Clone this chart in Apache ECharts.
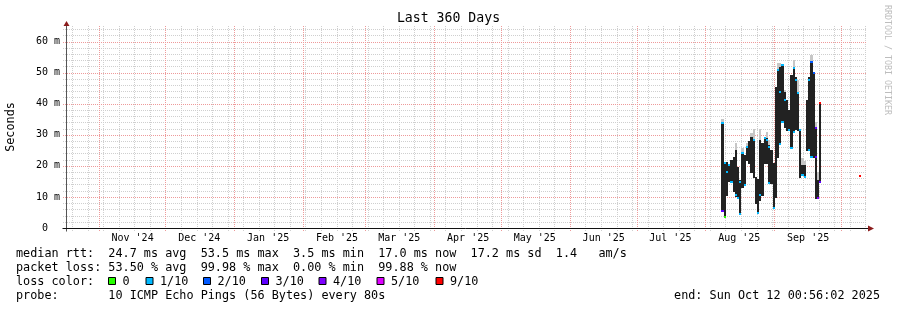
<!DOCTYPE html>
<html><head><meta charset="utf-8">
<script src="https://cdn.jsdelivr.net/npm/echarts@6/dist/echarts.min.js"></script>
<style>html,body{margin:0;padding:0;background:#fff}#c{width:897px;height:310px}</style>
</head><body><div id="c"></div>
<script>
// ---------------- data ----------------
const chartTitle = 'Last 360 Days';
const yAxisName = 'Seconds';
const rangeStart = '2024-10-17T00:56:02';
const rangeEnd = '2025-10-12T00:56:02';
const yTickValues = [0, 10, 20, 30, 40, 50, 60];
const monthTicks = ['2024-11-01','2024-12-01','2025-01-01','2025-02-01','2025-03-01','2025-04-01',
  '2025-05-01','2025-06-01','2025-07-01','2025-08-01','2025-09-01','2025-10-01'];
const monthLabels = ["Nov '24","Dec '24","Jan '25","Feb '25","Mar '25","Apr '25",
  "May '25","Jun '25","Jul '25","Aug '25","Sep '25"];
const firstWeekLine = '2024-10-20';

const days = ['2025-08-08','2025-08-09','2025-08-10','2025-08-11','2025-08-12','2025-08-13','2025-08-14',
  '2025-08-15','2025-08-16','2025-08-17','2025-08-18','2025-08-19','2025-08-20','2025-08-21','2025-08-22',
  '2025-08-23','2025-08-24','2025-08-25','2025-08-26','2025-08-27','2025-08-28','2025-08-29','2025-08-30',
  '2025-08-31','2025-09-01','2025-09-02','2025-09-03','2025-09-04','2025-09-05','2025-09-06','2025-09-07',
  '2025-09-08','2025-09-09','2025-09-10','2025-09-11','2025-09-12','2025-09-13','2025-09-14','2025-09-15',
  '2025-09-16','2025-09-17','2025-09-18','2025-09-19','2025-09-20','2025-09-21'];
// median rtt range per day (ms)
const medianLow = [5.8,3.6,10.6,15.0,14.8,12.0,10.2,9.7,4.8,13.3,14.0,21.9,21.0,18.0,16.5,
  7.9,4.7,9.0,10.6,20.9,20.9,14.4,14.4,6.3,10.0,22.9,27.0,34.2,32.6,31.5,31.5,
  25.6,31.0,32.0,31.5,16.5,17.0,16.5,25.0,25.0,22.9,23.0,9.5,9.5,15.0];
const medianHigh = [33.7,21.3,21.3,20.5,21.9,23.0,25.0,19.5,15.4,24.6,23.5,26.2,28.0,29.4,28.3,
  16.5,15.9,28.3,27.2,28.9,28.9,26.7,25.0,20.9,45.5,50.8,51.9,52.4,43.9,41.2,38.0,
  49.2,51.9,48.5,43.3,31.5,20.3,20.3,41.2,48.7,53.5,49.8,32.6,15.4,40.7];
// top of the grey smoke (ms)
const smokeHigh = [35.2,21.3,21.3,20.5,21.9,23.0,27.2,19.5,15.4,25.8,23.5,27.2,28.0,30.5,32.0,
  16.5,15.9,32.0,27.2,28.9,31.0,28.3,25.0,20.9,45.5,53.0,53.0,52.4,44.5,41.2,38.0,
  49.2,54.0,48.5,47.6,31.5,22.5,21.5,41.2,48.7,55.7,49.8,34.0,18.0,40.7];
// loss-coloured median points
const markDays = ['2025-08-08','2025-08-08','2025-08-09','2025-08-09','2025-08-10','2025-08-11','2025-08-12',
  '2025-08-14','2025-08-15','2025-08-16','2025-08-16','2025-08-17','2025-08-18','2025-08-19','2025-08-22',
  '2025-08-24','2025-08-25','2025-08-27','2025-08-28','2025-08-29','2025-08-29','2025-08-31','2025-09-02',
  '2025-09-03','2025-09-03','2025-09-04','2025-09-04','2025-09-05','2025-09-07','2025-09-08','2025-09-09',
  '2025-09-09','2025-09-10','2025-09-11','2025-09-12','2025-09-13','2025-09-14','2025-09-16','2025-09-16',
  '2025-09-17','2025-09-17','2025-09-18','2025-09-19','2025-09-19','2025-09-20','2025-09-21','2025-09-21',
  '2025-10-09'];
const markValues = [33.7,5.6,3.5,21.0,18.1,20.3,14.9,10.6,9.6,14.9,4.5,24.0,13.8,26.2,28.3,
  4.7,10.6,28.9,28.3,26.2,14.4,6.5,50.8,26.9,43.9,52.4,34.2,41.2,31.5,25.6,51.4,
  31.0,47.6,43.3,31.5,17.0,16.5,47.6,25.0,53.5,23.0,49.8,23.0,32.1,9.5,14.9,40.3,16.8];
const markLoss = [1,3,0,1,1,1,1,1,1,1,1,1,1,1,1,
  1,1,1,1,1,1,1,1,1,1,1,1,1,1,1,1,
  1,1,1,1,1,1,1,1,2,1,2,3,3,4,3,6,6];
const lossLabels = ['0','1/10','2/10','3/10','4/10','5/10','9/10'];
const lossColors = ['#26ff00','#00b8ff','#0059ff','#5e00ff','#7e00ff','#dd00ff','#ff0000'];

const legendLines = [
  'median rtt:  24.7 ms avg  53.5 ms max  3.5 ms min  17.0 ms now  17.2 ms sd  1.4   am/s',
  'packet loss: 53.50 % avg  99.98 % max  0.00 % min  99.88 % now',
  'loss color:',
  'probe:       10 ICMP Echo Pings (56 Bytes) every 80s'
];
const endText = 'end: Sun Oct 12 00:56:02 2025';
const watermark = 'RRDTOOL / TOBI OETIKER';

// ---------------- helpers / styles ----------------
function utc(s) {
  const m = s.match(/(\d+)-(\d+)-(\d+)(?:T(\d+):(\d+):(\d+))?/);
  return Date.UTC(+m[1], +m[2] - 1, +m[3], +(m[4] || 0), +(m[5] || 0), +(m[6] || 0));
}
const DAY = 86400000;
const T0 = utc(rangeStart), T1 = utc(rangeEnd);
const MONO = 'DejaVu Sans Mono';
const GRID_MINOR = '#cfcfcf', GRID_MAJOR = '#ee9a9a';
const DARK = '#222222', SMOKE = '#c6c6c6', ARROW = '#8b1c1c';
const Y_MAX = 65;

function px(v) { return Math.round(v) + 0.5; }

const chart = echarts.init(document.getElementById('c'), null, { renderer: 'canvas' });

const gridSeries = {
  type: 'custom', z: 1, clip: false, silent: true,
  data: [[T0, 0]],
  renderItem(params, api) {
    const ch = [];
    const yTop = api.coord([T0, Y_MAX])[1];
    const yBot = api.coord([T0, 0])[1];
    const xL = api.coord([T0, 0])[0];
    const xR = api.coord([T1, 0])[0];
    // horizontal minor (2 ms) then major (10 ms)
    for (let v = 2; v < Y_MAX; v += 2) {
      if (v % 10 === 0) continue;
      const y = px(api.coord([T0, v])[1]);
      ch.push({ type: 'line', shape: { x1: xL - 3, y1: y, x2: xR, y2: y },
        style: { stroke: GRID_MINOR, lineWidth: 1, lineDash: [1, 1] } });
    }
    // vertical weekly
    for (let t = utc(firstWeekLine); t < T1; t += 7 * DAY) {
      const x = px(api.coord([t, 0])[0] - 0.5);
      ch.push({ type: 'line', shape: { x1: x, y1: yTop, x2: x, y2: yBot + 3 },
        style: { stroke: GRID_MINOR, lineWidth: 1, lineDash: [1, 1] } });
    }
    // major
    yTickValues.forEach(v => {
      if (v === 0) return;
      const y = px(api.coord([T0, v])[1]);
      ch.push({ type: 'line', shape: { x1: xL - 3, y1: y, x2: xR, y2: y },
        style: { stroke: GRID_MAJOR, lineWidth: 1, lineDash: [1, 1] } });
    });
    monthTicks.forEach(d => {
      const x = px(api.coord([utc(d), 0])[0] - 0.5);
      ch.push({ type: 'line', shape: { x1: x, y1: yTop, x2: x, y2: yBot + 3 },
        style: { stroke: GRID_MAJOR, lineWidth: 1, lineDash: [1, 1] } });
    });
    return { type: 'group', children: ch };
  }
};

const rangeSeries = {
  type: 'custom', z: 3, clip: false, silent: true,
  data: days.map((d, i) => [utc(d), medianLow[i], medianHigh[i], smokeHigh[i]]),
  encode: { x: 0, y: [1, 2, 3] },
  renderItem(params, api) {
    const t = api.value(0);
    const xa = Math.round(api.coord([t, 0])[0]);
    const xb = Math.round(api.coord([t + DAY, 0])[0]);
    const yLo = Math.round(api.coord([t, api.value(1)])[1]);
    const yHi = Math.round(api.coord([t, api.value(2)])[1]);
    const ySm = Math.round(api.coord([t, api.value(3)])[1]);
    const ch = [];
    if (ySm < yHi) ch.push({ type: 'rect', shape: { x: xa, y: ySm, width: xb - xa, height: yHi - ySm }, style: { fill: SMOKE } });
    ch.push({ type: 'rect', shape: { x: xa, y: yHi, width: xb - xa, height: Math.max(1, yLo - yHi + 1) }, style: { fill: DARK } });
    return { type: 'group', children: ch };
  }
};

const markSeries = {
  type: 'custom', z: 4, clip: false, silent: true,
  data: markDays.map((d, i) => [utc(d), markValues[i], markLoss[i]]),
  encode: { x: 0, y: 1 },
  renderItem(params, api) {
    const t = api.value(0);
    const xa = Math.round(api.coord([t, 0])[0]);
    const xb = Math.round(api.coord([t + DAY, 0])[0]);
    const y = Math.round(api.coord([t, api.value(1)])[1]);
    return { type: 'rect', shape: { x: xa, y: y - 1, width: Math.max(2, xb - xa), height: 2 },
      style: { fill: lossColors[api.value(2)] } };
  }
};

const axisSeries = {
  type: 'custom', z: 5, clip: false, silent: true,
  data: [[T0, 0]],
  renderItem(params, api) {
    const ch = [];
    const x0 = px(api.coord([T0, 0])[0] - 0.5);
    const y0 = px(api.coord([T0, 0])[1]);
    const yTop = api.coord([T0, Y_MAX])[1];
    const xR = api.coord([T1, 0])[0];
    // y axis
    ch.push({ type: 'line', shape: { x1: x0, y1: y0 + 3, x2: x0, y2: yTop }, style: { stroke: '#555', lineWidth: 1 } });
    ch.push({ type: 'polygon', shape: { points: [[x0 - 3, yTop], [x0 + 3, yTop], [x0, yTop - 5]] }, style: { fill: ARROW } });
    // x axis
    ch.push({ type: 'line', shape: { x1: x0 - 4, y1: y0, x2: xR + 2, y2: y0 }, style: { stroke: '#111', lineWidth: 1 } });
    ch.push({ type: 'polygon', shape: { points: [[xR + 2, y0 - 3], [xR + 2, y0 + 3], [xR + 8, y0]] }, style: { fill: ARROW } });
    // month labels centred half a month after each month start
    monthLabels.forEach((lab, i) => {
      const x = api.coord([utc(monthTicks[i]) + 15 * DAY, 0])[0];
      ch.push({ type: 'text', x: x, y: y0 + 10,
        style: { text: lab, fontSize: 10, fontFamily: MONO, fill: '#000', align: 'center', verticalAlign: 'middle' } });
    });
    return { type: 'group', children: ch };
  }
};

// legend graphics
const LX = 16, LINE_Y = [254, 268, 282, 296], LEG_FS = 11.8;
const graphics = [
  { type: 'text', x: 448.5, y: 19, style: { text: chartTitle, fontSize: 13.2, fontFamily: MONO, fill: '#000', align: 'center', verticalAlign: 'middle' } },
  { type: 'text', x: 11, y: 127, rotation: Math.PI / 2, style: { text: yAxisName, fontSize: LEG_FS, fontFamily: MONO, fill: '#000', align: 'center', verticalAlign: 'middle' } },
  { type: 'text', x: 887, y: 60, rotation: -Math.PI / 2, style: { text: watermark, fontSize: 8.3, fontFamily: MONO, fill: '#bdbdbd', align: 'center', verticalAlign: 'middle' } },
  { type: 'text', x: 880, y: LINE_Y[3], style: { text: endText, fontSize: LEG_FS, fontFamily: MONO, fill: '#000', align: 'right', verticalAlign: 'middle' } }
];
legendLines.forEach((s, i) => graphics.push({ type: 'text', x: LX, y: LINE_Y[i],
  style: { text: s, fontSize: LEG_FS, fontFamily: MONO, fill: '#000', align: 'left', verticalAlign: 'middle' } }));
const boxLeft = [108, 145.5, 203, 261, 318.5, 376.5, 435.5];
lossLabels.forEach((lab, i) => {
  graphics.push({ type: 'rect', shape: { x: boxLeft[i] + 0.5, y: LINE_Y[2] - 4.5, width: 7, height: 7 },
    style: { fill: lossColors[i], stroke: '#000', lineWidth: 1 } });
  graphics.push({ type: 'text', x: boxLeft[i] + 14.5, y: LINE_Y[2],
    style: { text: lab, fontSize: LEG_FS, fontFamily: MONO, fill: '#000', align: 'left', verticalAlign: 'middle' } });
});

chart.setOption({
  animation: false,
  backgroundColor: '#ffffff',
  grid: { left: 66, top: 26, width: 800, height: 202, containLabel: false },
  xAxis: { type: 'time', min: T0, max: T1, show: false },
  yAxis: {
    type: 'value', min: 0, max: Y_MAX, interval: 10,
    axisLine: { show: false }, axisTick: { show: false }, splitLine: { show: false },
    axisLabel: { margin: 6, fontSize: 10, fontFamily: MONO, color: '#000',
      formatter: v => yTickValues.includes(v) ? (v === 0 ? '0  ' : v + ' m') : '' }
  },
  series: [gridSeries, rangeSeries, markSeries, axisSeries],
  graphic: graphics
});
</script></body></html>
